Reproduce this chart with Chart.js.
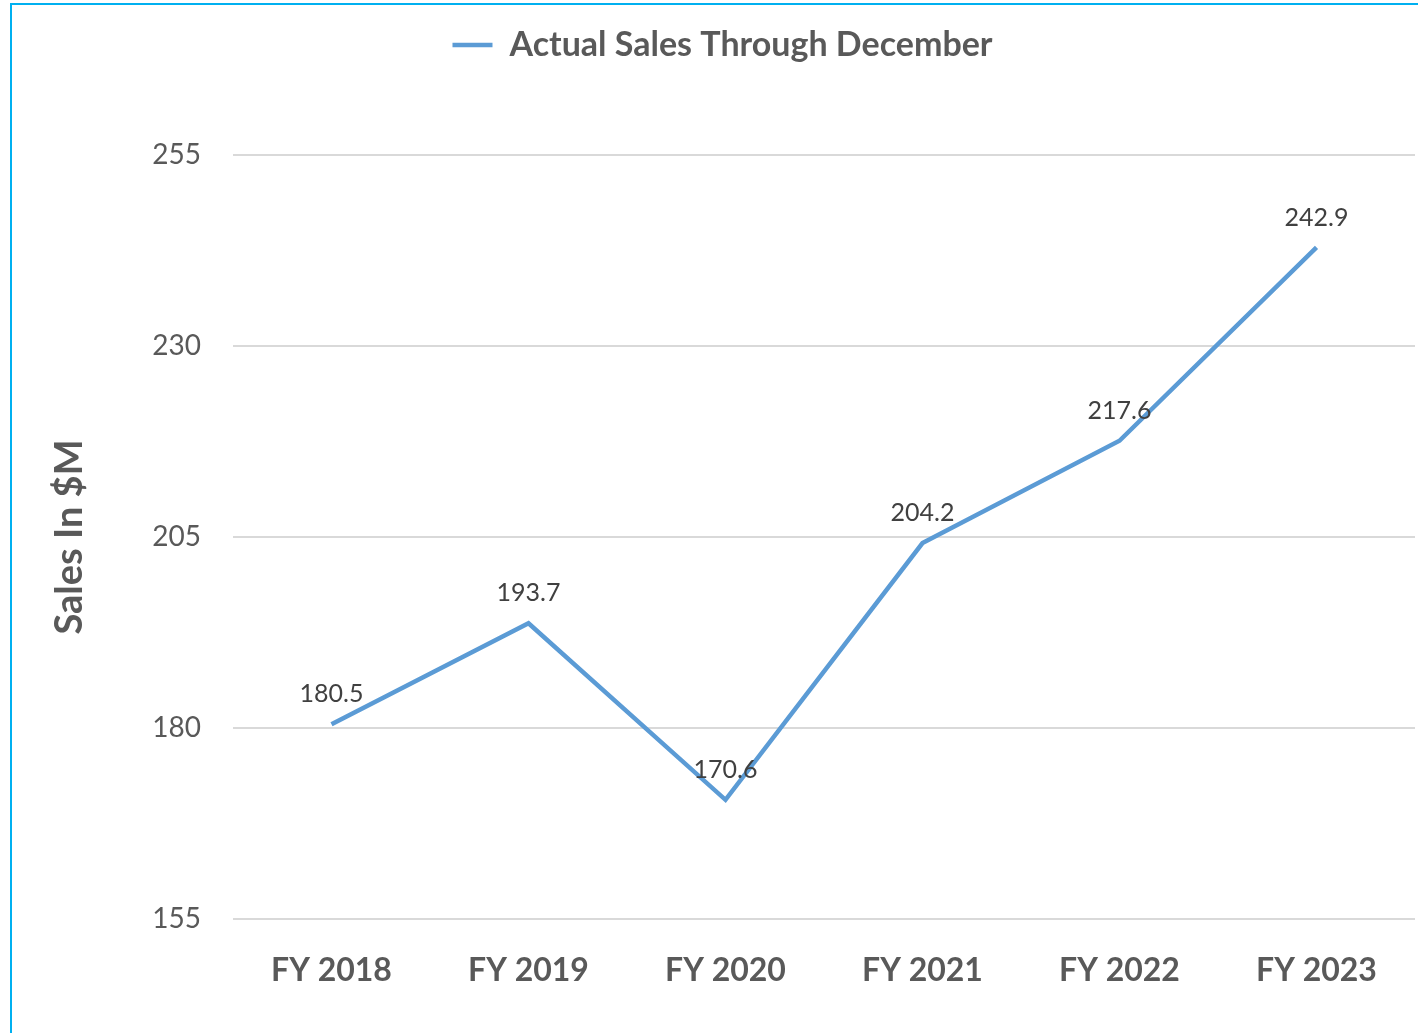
<!DOCTYPE html>
<html>
<head>
<meta charset="utf-8">
<script src="https://cdn.jsdelivr.net/npm/chart.js@4.4.0/dist/chart.umd.min.js"></script>
<style>
  html, body { margin: 0; padding: 0; background: #fff; }
  #wrap { position: absolute; left: 0; top: 0; width: 1418px; height: 1033px; overflow: hidden; }
  #frame { position: absolute; left: 10px; top: 3px; width: 1500px; height: 1100px; border: 2px solid #00b0f0; pointer-events: none; }
  canvas { position: absolute; left: 0; top: 0; }
</style>
</head>
<body>
<div id="wrap">
  <canvas id="grafico-vendas" width="1418" height="1033"></canvas>
  <div id="frame"></div>
</div>
<script>
var anos = ["FY 2018", "FY 2019", "FY 2020", "FY 2021", "FY 2022", "FY 2023"];
var vendas = [180.5, 193.7, 170.6, 204.2, 217.6, 242.9];
var ticksY = [155, 180, 205, 230, 255];

var fonte = "Lato, 'Open Sans', sans-serif";

// rotulos de valor acima de cada ponto
var rotulos = {
  id: "rotulos",
  afterDatasetsDraw: function (chart) {
    var ctx = chart.ctx;
    var meta = chart.getDatasetMeta(0);
    ctx.save();
    ctx.font = "25px " + fonte;
    ctx.fillStyle = "#404040";
    ctx.textAlign = "center";
    ctx.textBaseline = "middle";
    meta.data.forEach(function (p, i) {
      ctx.fillText(vendas[i].toFixed(1), p.x, p.y - 30);
    });
    ctx.restore();
  },
};

// legenda com altura fixa para o topo da area do grafico
var alturaLegenda = {
  id: "alturaLegenda",
  beforeLayout: function (chart) {
    var leg = chart.legend;
    if (leg && !leg._fixo) {
      var fit = leg.fit;
      leg.fit = function () {
        fit.call(this);
        this.height = 155;
      };
      leg._fixo = true;
    }
  },
};

var graficoVendas = document.getElementById("grafico-vendas").getContext("2d");

new Chart(graficoVendas, {
  type: "line",
  data: {
    labels: anos,
    datasets: [
      {
        label: "Actual Sales Through December",
        data: vendas,
        borderColor: "#5b9bd5",
        backgroundColor: "#5b9bd5",
        borderWidth: 4.5,
        pointRadius: 0,
        tension: 0,
      },
    ],
  },
  options: {
    responsive: false,
    animation: false,
    layout: { padding: { top: 0, right: 3, left: 30, bottom: 0 } },
    plugins: {
      tooltip: { enabled: false },
      legend: {
        display: true,
        labels: {
          usePointStyle: true,
          pointStyle: "line",
          pointStyleWidth: 40,
          padding: 28,
          color: "#595959",
          font: { family: fonte, size: 34, weight: "bold" },
        },
      },
    },
    scales: {
      x: {
        offset: true,
        grid: { display: false },
        border: { display: false },
        ticks: {
          color: "#595959",
          padding: 24,
          font: { family: fonte, size: 32, weight: "bold" },
        },
        afterFit: function (s) {
          s.height = 114;
        },
      },
      y: {
        min: 155,
        max: 255,
        afterBuildTicks: function (s) {
          s.ticks = ticksY.map(function (v) { return { value: v }; });
        },
        grid: { color: "#d9d9d9", lineWidth: 2, drawTicks: false },
        border: { display: false },
        ticks: {
          color: "#595959",
          padding: 32,
          font: { family: fonte, size: 28 },
        },
        title: {
          display: true,
          text: "Sales In $M",
          color: "#595959",
          padding: { top: 17, bottom: 0 },
          font: { family: fonte, size: 38, weight: "bold" },
        },
        afterFit: function (s) {
          s.width = 203;
        },
      },
    },
  },
  plugins: [rotulos, alturaLegenda],
});
</script>
</body>
</html>
